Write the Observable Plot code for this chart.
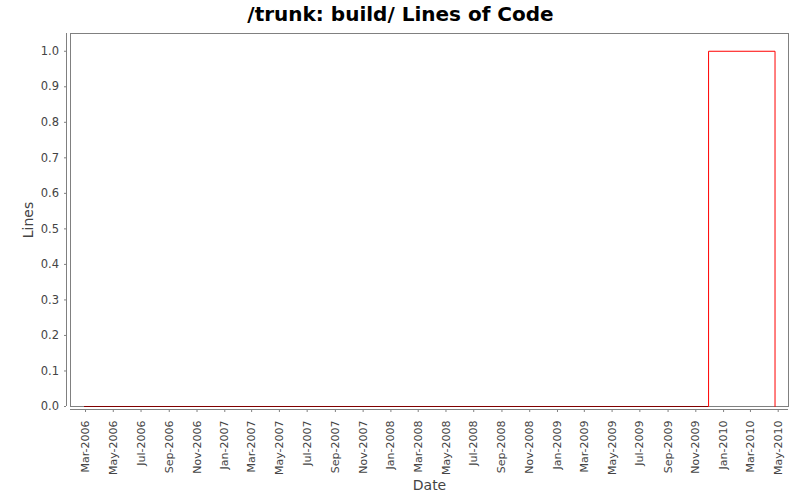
<!DOCTYPE html>
<html>
<head>
<meta charset="utf-8">
<script src="https://cdn.jsdelivr.net/npm/d3@7"></script>
<script src="https://cdn.jsdelivr.net/npm/@observablehq/plot@0.6"></script>
<style>
  html, body { margin: 0; padding: 0; background: #fff; }
  #chart svg { display: block; font-family: "DejaVu Sans", sans-serif; }
</style>
</head>
<body>
<div id="chart"></div>
<script>
// Chart data
const title = "/trunk: build/ Lines of Code";
const xLabel = "Date";
const yLabel = "Lines";
const dates = ["2006-02-27", "2009-11-29", "2010-04-24"];
const lines = [0, 1, 0];
const xDomain = ["2006-01-27T00:00Z", "2010-05-23T15:00Z"];
const yDomain = [0, 1.05];
const xTickMonths = [
  "2006-03-01", "2006-05-01", "2006-07-01", "2006-09-01", "2006-11-01",
  "2007-01-01", "2007-03-01", "2007-05-01", "2007-07-01", "2007-09-01", "2007-11-01",
  "2008-01-01", "2008-03-01", "2008-05-01", "2008-07-01", "2008-09-01", "2008-11-01",
  "2009-01-01", "2009-03-01", "2009-05-01", "2009-07-01", "2009-09-01", "2009-11-01",
  "2010-01-01", "2010-03-01", "2010-05-01"
];
const yTicks = [0, 0.1, 0.2, 0.3, 0.4, 0.5, 0.6, 0.7, 0.8, 0.9, 1.0];

const data = dates.map((d, i) => ({date: new Date(d + "T00:00Z"), lines: lines[i]}));
const xTicks = xTickMonths.map(d => new Date(d + "T00:00Z"));
const xDom = xDomain.map(d => new Date(d));

const gray = "#808080";
const labelColor = "#444444";

const chart = Plot.plot({
  width: 800,
  height: 500,
  marginLeft: 70,
  marginRight: 12,
  marginTop: 33,
  marginBottom: 94,
  style: {fontFamily: "'DejaVu Sans', sans-serif", background: "#fff"},
  x: {type: "utc", domain: xDom},
  y: {domain: yDomain},
  marks: [
    Plot.frame({stroke: gray}),
    // separate axis lines
    Plot.ruleX([xDom[0]], {dx: -4, stroke: gray}),
    Plot.ruleY([yDomain[0]], {dy: 3, stroke: gray}),
    Plot.axisY({
      ticks: yTicks, tickFormat: d3.format(".1f"), tickSize: 2, tickPadding: 5.5,
      dx: -4, stroke: gray, color: labelColor, fontSize: 11.5, label: null
    }),
    Plot.axisX({
      ticks: xTicks, tickFormat: d3.utcFormat("%b-%Y"), tickSize: 3, tickPadding: 8,
      tickRotate: -90, dy: 3, stroke: gray, color: labelColor, fontSize: 11, label: null
    }),
    Plot.line(data, {x: "date", y: "lines", curve: "step-after", stroke: "red", strokeWidth: 1}),
    Plot.ruleY([0], {x1: data[0].date, x2: data[1].date, stroke: "#800000", strokeWidth: 1}),
    Plot.text([title], {frameAnchor: "top", textAnchor: "middle", lineAnchor: "middle",
      dx: -29, dy: -19.4, fontSize: 20, fontWeight: "bold", fill: "#000"}),
    Plot.text([yLabel], {frameAnchor: "left", textAnchor: "middle", lineAnchor: "middle",
      dx: -42, rotate: -90, fontSize: 14, fill: labelColor}),
    Plot.text([xLabel], {frameAnchor: "bottom", textAnchor: "middle", lineAnchor: "middle",
      dy: 79, fontSize: 14, fill: labelColor})
  ]
});
document.getElementById("chart").appendChild(chart);
</script>
</body>
</html>
